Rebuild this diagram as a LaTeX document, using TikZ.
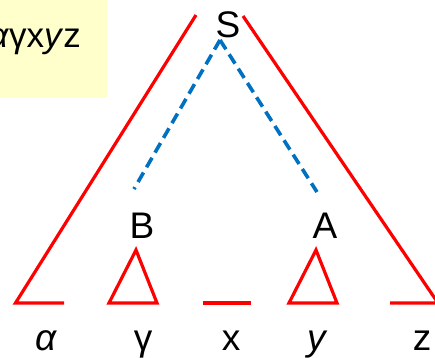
\documentclass[tikz,border=0pt]{standalone}
\usepackage{fontspec}
\setmainfont{Liberation Sans}
\definecolor{dashblue}{RGB}{0,112,192}
\begin{document}
\begin{tikzpicture}[x=1pt,y=-1pt,
  redline/.style={draw=red,line width=3.2pt,line join=miter},
  blueline/.style={draw=dashblue,line width=3.6pt,dash pattern=on 11pt off 6pt},
  lbl/.style={font=\fontsize{37}{40}\selectfont,inner sep=0pt,anchor=base},
  boxtext/.style={font=\fontsize{35}{40}\selectfont,inner sep=0pt,anchor=base east}]
\useasboundingbox (0,0) rectangle (435,357);
\fill[fill={rgb,255:red,255;green,255;blue,204}] (-10,-10) rectangle (107,98);
\node[boxtext] (word) at (81,47) {\textit{α}γx\textit{y}z};
% big triangle
\draw[redline] (64,303) -- (15.5,303) -- (196,15);
\draw[redline] (243,16) -- (438,303) -- (390,303);
% small triangles
\draw[redline] (109,303) -- (136,250) -- (157,303) -- cycle;
\draw[redline] (289,303) -- (316,250) -- (337,303) -- cycle;
\draw[redline] (203,303) -- (251,303);
% nodes
\node[lbl] (S) at (228,37) {S};
\node[lbl] (B) at (142,238) {B};
\node[lbl] (A) at (325,238) {A};
\coordinate (top) at (220,40);
\coordinate (bend) at (134,189);
\coordinate (aend) at (317,192);
\draw[blueline] (top) -- (bend);
\draw[blueline] (top) -- (aend);
% bottom labels
\node[lbl] (alpha) at (46,350) {\textit{α}};
\node[lbl] (gamma) at (143,350) {γ};
\node[lbl] (xl) at (231,350) {x};
\node[lbl] (yl) at (318,350) {\textit{y}};
\node[lbl] (zl) at (422,350) {z};
\end{tikzpicture}
\end{document}
